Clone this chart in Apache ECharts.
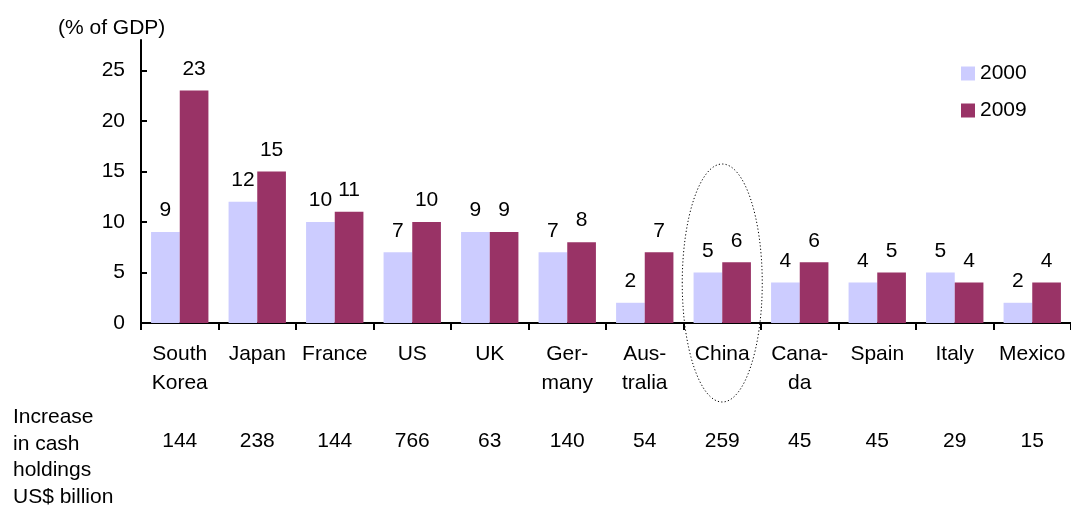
<!DOCTYPE html>
<html>
<head>
<meta charset="utf-8">
<script src="https://cdn.jsdelivr.net/npm/echarts@6/dist/echarts.min.js"></script>
<style>html,body{margin:0;padding:0;background:#fff;}#c{width:1071px;height:510px;}</style>
</head>
<body>
<div id="c"></div>
<script>
const categories = ['South\nKorea', 'Japan', 'France', 'US', 'UK', 'Ger-\nmany', 'Aus-\ntralia', 'China', 'Cana-\nda', 'Spain', 'Italy', 'Mexico'];
const values2000 = [9, 12, 10, 7, 9, 7, 2, 5, 4, 4, 5, 2];
const values2009 = [23, 15, 11, 10, 9, 8, 7, 6, 6, 5, 4, 4];
const cashIncrease = [144, 238, 144, 766, 63, 140, 54, 259, 45, 45, 29, 15];
const yTicks = [0, 5, 10, 15, 20, 25];

const FONT = '"Liberation Sans", Arial, sans-serif';
const chart = echarts.init(document.getElementById('c'));
const option = {
  animation: false,
  backgroundColor: '#fff',
  textStyle: { fontFamily: FONT, color: '#000' },
  grid: { left: 141, right: 0, top: 40, bottom: 187, containLabel: false },
  legend: {
    data: ['2000', '2009'],
    orient: 'vertical',
    left: 956,
    top: 58,
    itemWidth: 14,
    itemHeight: 14,
    itemGap: 16,
    icon: 'rect',
    textStyle: { fontSize: 21, fontFamily: FONT, color: '#000' }
  },
  xAxis: [
    {
      type: 'category',
      data: categories,
      axisLine: { lineStyle: { color: '#000', width: 2 } },
      axisTick: { show: true, length: 7, lineStyle: { color: '#000', width: 2 } },
      axisLabel: { color: '#000', fontSize: 21, fontFamily: FONT, lineHeight: 29, margin: 17, interval: 0 }
    },
    {
      type: 'category',
      data: categories,
      position: 'bottom',
      axisLine: { show: false },
      axisTick: { show: false },
      axisLabel: {
        color: '#000', fontSize: 21, fontFamily: FONT, lineHeight: 24, margin: 106, interval: 0,
        formatter: (v, i) => String(cashIncrease[i])
      }
    }
  ],
  yAxis: {
    type: 'value',
    min: 0,
    max: 28,
    interval: 5,
    splitLine: { show: false },
    axisLine: { show: true, lineStyle: { color: '#000', width: 2 } },
    axisTick: { show: true, inside: true, length: 6, customValues: yTicks, lineStyle: { color: '#000', width: 2 } },
    axisLabel: { color: '#000', fontSize: 21, fontFamily: FONT, margin: 16, customValues: yTicks }
  },
  series: [
    {
      name: '2000', type: 'bar', data: values2000, xAxisIndex: 0,
      barGap: '0%', barCategoryGap: '26%',
      itemStyle: { color: '#CCCCFF' },
      label: { show: true, position: 'top', distance: 11, fontSize: 21, fontFamily: FONT, color: '#000' }
    },
    {
      name: '2009', type: 'bar', data: values2009, xAxisIndex: 0,
      barGap: '0%', barCategoryGap: '26%',
      itemStyle: { color: '#993366' },
      label: { show: true, position: 'top', distance: 11, fontSize: 21, fontFamily: FONT, color: '#000' }
    }
  ]
};
chart.setOption(option);

const chinaX = chart.convertToPixel({ xAxisIndex: 0 }, 'China');
chart.setOption({
  graphic: [
    { type: 'text', left: 58, top: 18, style: { text: '(% of GDP)', fontSize: 21, fontFamily: FONT, fill: '#000' } },
    { type: 'text', left: 13, top: 404, style: { text: 'Increase\nin cash\nholdings\nUS$ billion', fontSize: 21, lineHeight: 26.5, fontFamily: FONT, fill: '#000' } },
    { type: 'ellipse', shape: { cx: chinaX, cy: 283, rx: 40, ry: 119 }, style: { fill: 'none', stroke: '#000', lineWidth: 1, lineDash: [1.2, 2.2] }, z: 10 }
  ]
});
</script>
</body>
</html>
